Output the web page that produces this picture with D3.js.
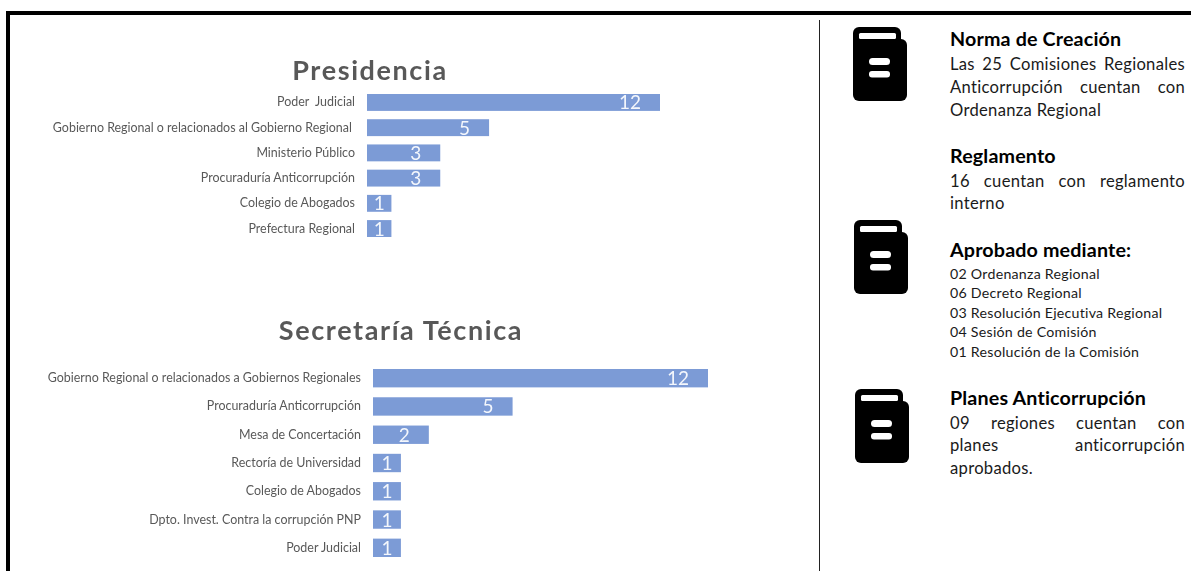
<!DOCTYPE html>
<html lang="es">
<head>
<meta charset="utf-8">
<script src="https://cdn.jsdelivr.net/npm/d3@7"></script>
<style>
  html, body { margin: 0; padding: 0; background: #fff; overflow: hidden; }
  svg { display: block; font-family: Lato, "Open Sans", sans-serif; }
  text { white-space: pre; }
  .tick text { fill: #595959; font-family: Lato, "Open Sans", sans-serif; font-size: 12.45px; }
</style>
</head>
<body>
<svg id="chart" width="1191" height="571">
  <defs><filter id="soft" x="-2%" y="-2%" width="104%" height="104%"><feGaussianBlur stdDeviation="0.4"/></filter></defs>
</svg>
<script>
// Presidencia
const presidenciaLabels = [
  "Poder  Judicial",
  "Gobierno Regional o relacionados al Gobierno Regional ",
  "Ministerio Público",
  "Procuraduría Anticorrupción",
  "Colegio de Abogados",
  "Prefectura Regional",
];
const presidenciaValues = [12, 5, 3, 3, 1, 1];

// Secretaría Técnica
const secretariaLabels = [
  "Gobierno Regional o relacionados a Gobiernos Regionales",
  "Procuraduría Anticorrupción",
  "Mesa de Concertación",
  "Rectoría de Universidad",
  "Colegio de Abogados",
  "Dpto. Invest. Contra la corrupción PNP",
  "Poder Judicial",
];
const secretariaValues = [12, 5, 2, 1, 1, 1, 1];

// Right column text
const normaLines = ["Las 25 Comisiones Regionales", "Anticorrupción cuentan con", "Ordenanza Regional"];
const reglamentoLines = ["16 cuentan con reglamento", "interno"];
const aprobadoLines = [
  "02 Ordenanza Regional",
  "06 Decreto Regional",
  "03 Resolución Ejecutiva Regional",
  "04 Sesión de Comisión",
  "01 Resolución de la Comisión",
];
const planesLines = ["09 regiones cuentan con", "planes anticorrupción", "aprobados."];

const barColor = "#7c9bd6";
const greyText = "#595959";

const svg = d3.select("#chart");

// Frame and divider
svg.append("rect").attr("x", 6).attr("y", 11).attr("width", 1185).attr("height", 4).attr("fill", "#000");
svg.append("rect").attr("x", 6).attr("y", 11).attr("width", 4).attr("height", 560).attr("fill", "#000");
svg.append("line")
  .attr("x1", 819.5).attr("x2", 819.5)
  .attr("y1", 20).attr("y2", 571)
  .attr("stroke", "#222").attr("stroke-width", 1);

function drawBars(title, titleX, titleY, labels, values, x0, x1, y0, y1, padding) {
  const root = svg.append("g").attr("filter", "url(#soft)");

  root.append("text")
    .attr("x", titleX)
    .attr("y", titleY)
    .attr("text-anchor", "middle")
    .attr("fill", greyText)
    .style("font-size", "27px")
    .style("font-weight", 700)
    .style("letter-spacing", "1.6px")
    .text(title);

  const x = d3.scaleLinear().domain([0, d3.max(values)]).range([x0, x1]);
  const y = d3.scaleBand().domain(labels).range([y0, y1]).paddingInner(padding).paddingOuter(0);

  const axis = root.append("g")
    .attr("transform", `translate(${x0},0)`)
    .call(d3.axisLeft(y).tickSize(0).tickPadding(12));
  axis.select(".domain").remove();

  const rows = labels.map((label, i) => ({ label, value: values[i] }));

  root.append("g")
    .selectAll("rect")
    .data(rows)
    .enter()
    .append("rect")
    .attr("x", x(0))
    .attr("y", (d) => y(d.label))
    .attr("width", (d) => x(d.value) - x(0))
    .attr("height", y.bandwidth())
    .attr("fill", barColor);

  // Value labels: inside the bar end, centred when the bar is short
  root.append("g")
    .selectAll("text")
    .data(rows)
    .enter()
    .append("text")
    .attr("x", (d) => {
      const w = x(d.value) - x(0);
      return w < 40 ? x(0) + w / 2 : x(d.value) - 19;
    })
    .attr("y", (d) => y(d.label) + y.bandwidth() / 2 + 7)
    .attr("text-anchor", (d) => (x(d.value) - x(0) < 40 ? "middle" : "end"))
    .attr("fill", "#f4f7fc")
    .style("font-size", "19px")
    .style("font-weight", 400)
    .text((d) => d.value);
}

drawBars("Presidencia", 370, 80, presidenciaLabels, presidenciaValues, 367, 660, 94, 237, 0.33);
drawBars("Secretaría Técnica", 401, 340, secretariaLabels, secretariaValues, 373, 708, 369, 557, 0.35);

// Book icon
function drawIcon(ix, iy) {
  const g = svg.append("g").attr("transform", `translate(${ix},${iy})`);
  g.append("rect").attr("x", 0).attr("y", 0).attr("width", 48).attr("height", 40).attr("rx", 6).attr("fill", "#000");
  g.append("rect").attr("x", 0).attr("y", 12).attr("width", 54).attr("height", 62).attr("rx", 6).attr("fill", "#000");
  g.append("rect").attr("x", 6).attr("y", 6).attr("width", 37).attr("height", 6).attr("rx", 1.5).attr("fill", "#fff");
  g.append("rect").attr("x", 16).attr("y", 31).attr("width", 21).attr("height", 7).attr("rx", 3.5).attr("fill", "#fff");
  g.append("rect").attr("x", 16).attr("y", 44).attr("width", 21).attr("height", 6.5).attr("rx", 3).attr("fill", "#fff");
}
drawIcon(853, 27);
drawIcon(854, 220);
drawIcon(855, 389);

// Right column
const textX = 950;
const textRight = 1185;

function heading(label, y) {
  svg.append("text")
    .attr("x", textX).attr("y", y)
    .attr("fill", "#000")
    .style("font-size", "19.7px")
    .style("font-weight", 700)
    .style("letter-spacing", "0.15px")
    .text(label);
}

// Justified paragraph: every line but the last is stretched with word-spacing
function paragraph(lines, firstY, lineHeight) {
  lines.forEach((line, i) => {
    const t = svg.append("text")
      .attr("x", textX).attr("y", firstY + i * lineHeight)
      .attr("fill", "#1a1a1a")
      .style("font-size", "16.6px")
      .style("letter-spacing", "0.3px")
      .text(line);
    const gaps = line.split(" ").length - 1;
    if (i < lines.length - 1 && gaps > 0) {
      const extra = (textRight - textX - t.node().getComputedTextLength()) / gaps;
      t.style("word-spacing", `${extra}px`);
    }
  });
}

heading("Norma de Creación", 46);
paragraph(normaLines, 70, 23);
heading("Reglamento", 163);
paragraph(reglamentoLines, 187, 22);
heading("Aprobado mediante:", 257);
aprobadoLines.forEach((line, i) => {
  svg.append("text")
    .attr("x", textX).attr("y", 278.5 + i * 19.5)
    .attr("fill", "#1a1a1a")
    .style("font-size", "14.2px")
    .style("letter-spacing", "0.25px")
    .text(line);
});
heading("Planes Anticorrupción", 404.5);
paragraph(planesLines, 428.5, 22.5);
</script>
</body>
</html>
